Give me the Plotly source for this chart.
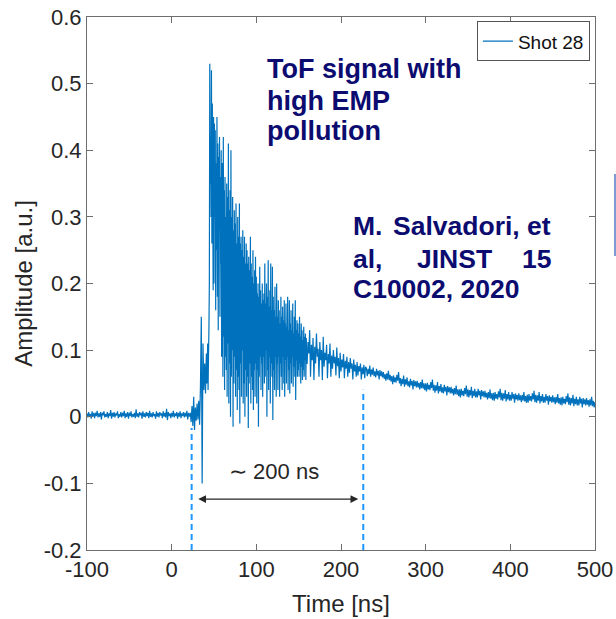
import numpy as np
import plotly.graph_objects as go

# ---------------------------------------------------------------------------
# ToF detector record, "Shot 28".  Amplitudes are stored in units of 1e-3 a.u.
# The record is kept as three segments, each with its own sample interval.
# ---------------------------------------------------------------------------

# -100 ns .. 39 ns, 1 ns samples: baseline, then the pre-pulse disturbance
early_start_ns, early_step_ns = -100, 1
early_amp = [
    5, -1, 7, 1, 4, -3, 8, 0, 6, -2,
    6, 1, 9, -1, 5, 0, 7, -4, 6, 2,
    8, -1, 4, 0, 7, -2, 5, 1, 10, -3,
    6, 0, 7, -1, 5, 2, 8, -2, 4, 0,
    7, -1, 6, 1, 9, -2, 5, 0, 7, -3,
    6, 1, 8, -1, 4, 0, 6, -2, 11, 0,
    5, -1, 7, 2, 6, -3, 8, 0, 5, -1,
    7, 1, 6, -2, 9, 0, 5, -1, 7, 1,
    4, -3, 8, 0, 6, -1, 7, 2, 5, -2,
    8, 0, 6, -1, 12, -5, 7, 1, 5, -2,
    6, 0, 9, -1, 5, 1, 7, -3, 6, 0,
    8, -2, 5, 1, 7, -1, 6, 0, 9, -4,
    6, 0,
    6, -8, 16, -14, 30, -20, 14, -6, 20, -4,
    24, -12, 45, 150, -100, 110, 40, 80,
]

# 40 ns .. 159.5 ns, 0.5 ns samples: main ion burst with EMP ringing
burst_start_ns, burst_step_ns = 40, 0.5
burst_amp = [
    35, 70, 95, 50, 60, 110, 40, 90, 130, 200,
    530, 350, 420, 300, 520, 260, 470, 330, 190, 450,
    200, 440, 300, 430, 160, 380, 250, 450, 180, 410,
    130, 390, 280, 420, 150, 360, 230, 400, 90, 380,
    380, 60, 420, 120, 340, 40, 360, 90, 300, 70,
    350, 30, 330, 110, 410, 20, 310, 80, 340, 0,
    400, 60, 300, 100, 330, -15, 280, 50, 310, 90,
    290, 30, 320, 70, 260, 10, 300, 60, 270, 40,
    320, -10, 260, 80, 270, 30, 250, 100, 280, 20,
    240, 50, 270, 0, 230, 70, 260, 30, 250, 60,
    230, -17, 240, 50, 220, 80, 270, 20, 230, 60,
    210, 40, 250, 10, 200, 70, 220, 30, 240, 80,
    210, 20, 185, 70, 200, -15, 180, 60, 225, 90,
    190, 40, 170, 80, 200, 30, 175, 90, 185, 50,
    230, 60, 170, 100, 200, 0, 180, 70, 235, 40,
    165, 90, 190, 20, 230, 80, 160, 60, 225, -5,
    180, 70, 160, 40, 195, 90, 150, 30, 200, 80,
    150, 40, 175, 90, 160, 30, 140, 80, 180, 60,
    150, 40, 165, 90, 145, 50, 175, 30, 140, 85,
    170, 50, 135, 90, 180, 40, 130, 70, 175, 35,
    140, 80, 160, 50, 130, 90, 170, 45, 125, 75,
    150, 60, 175, 25, 130, 85, 145, 60, 140, 70,
    125, 60, 150, 80, 120, 50, 140, 75, 130, 55,
    115, 70, 135, 60, 120, 85, 125, 55, 118, 80,
]

# 160 ns .. 500 ns, 1 ns samples: slow decaying tail
tail_start_ns, tail_step_ns = 160, 1
tail_amp = [
    80, 112, 95, 130, 60, 108, 85, 118, 55, 105,
    80, 125, 90, 102, 60, 112, 85, 100, 55, 120,
    75, 96, 85, 108, 58, 94, 80, 110, 60, 92,
    72, 100, 80, 90, 62, 104, 76, 88, 58, 96,
    68, 86, 74, 94, 58, 84, 72, 90, 60, 82,
    66, 88, 72, 80, 56, 86, 68, 78, 60, 82,
    62, 76, 68, 80, 56, 74, 64, 78, 58, 75,
    73, 61, 72, 64, 77, 60, 71, 63, 74, 61,
    68, 59, 72, 62, 69, 56, 70, 61, 68, 59,
    67, 57, 64, 54, 65, 56, 69, 55, 63, 53,
    61, 49, 62, 52, 59, 51, 63, 54, 67, 50,
    58, 46, 57, 49, 62, 45, 56, 48, 59, 46,
    53, 44, 57, 47, 54, 41, 55, 46, 53, 44,
    54, 44, 51, 41, 52, 43, 56, 42, 50, 40,
    50, 38, 51, 41, 48, 40, 52, 43, 56, 39,
    48, 36, 47, 39, 52, 35, 46, 38, 49, 36,
    44, 35, 48, 38, 45, 32, 46, 37, 44, 35,
    45, 35, 42, 32, 43, 34, 47, 33, 41, 31,
    41, 29, 42, 32, 39, 31, 43, 34, 47, 30,
    41, 29, 40, 32, 45, 28, 39, 31, 42, 29,
    38, 29, 42, 32, 39, 26, 40, 31, 38, 29,
    39, 29, 36, 26, 37, 28, 41, 27, 35, 25,
    36, 24, 37, 27, 34, 26, 38, 29, 42, 25,
    36, 24, 35, 27, 40, 23, 34, 26, 37, 24,
    33, 24, 37, 27, 34, 21, 35, 26, 33, 24,
    35, 25, 32, 22, 33, 24, 37, 23, 31, 21,
    33, 21, 34, 24, 31, 23, 35, 26, 39, 22,
    33, 21, 32, 24, 37, 20, 31, 23, 34, 21,
    30, 21, 34, 24, 31, 18, 32, 23, 30, 21,
    32, 22, 29, 19, 30, 21, 34, 20, 28, 18,
    29, 17, 30, 20, 27, 19, 31, 22, 35, 18,
    29, 17, 28, 20, 33, 16, 27, 19, 30, 17,
    26, 17, 30, 20, 27, 14, 28, 19, 26, 17,
    28, 18, 25, 15, 26, 17, 30, 16, 24, 14,
    22,
]

# Axis ticks (hyphen minus, as printed on the original axes)
x_ticks = [-100, 0, 100, 200, 300, 400, 500]
x_tick_labels = ["-100", "0", "100", "200", "300", "400", "500"]
y_ticks = [-0.2, -0.1, 0, 0.1, 0.2, 0.3, 0.4, 0.5, 0.6]
y_tick_labels = ["-0.2", "-0.1", "0", "0.1", "0.2", "0.3", "0.4", "0.5", "0.6"]

# Start / end of the ~200 ns window and where the guide lines stop
window_ns = [23.6, 226.3]
window_tops = [-0.017, 0.0405]


def segment(start, step, values):
    n = len(values)
    return start + step * np.arange(n), np.asarray(values, dtype=float) / 1000.0


t_parts, a_parts = zip(
    segment(early_start_ns, early_step_ns, early_amp),
    segment(burst_start_ns, burst_step_ns, burst_amp),
    segment(tail_start_ns, tail_step_ns, tail_amp),
)
t_ns = np.concatenate(t_parts)
amp = np.concatenate(a_parts)

FONT = "Liberation Sans, Arial, Helvetica, sans-serif"
INK = "#262626"
FRAME = "#6e6e6e"
NAVY = "#0c0c70"

fig = go.Figure()
fig.add_trace(go.Scatter(
    x=t_ns, y=amp, mode="lines", name="Shot 28",
    line=dict(color="#0072bd", width=1.2, simplify=False),
))

# dashed guides marking the window
for t0, top in zip(window_ns, window_tops):
    fig.add_shape(type="line", xref="x", yref="y", x0=t0, x1=t0, y0=-0.2, y1=top,
                  line=dict(color="#1e96ff", width=2, dash="6px,4px"))

# double-headed arrow spanning the window
fig.add_annotation(x=220.4, y=-0.1235, ax=29.6, ay=-0.1235,
                   xref="x", yref="y", axref="x", ayref="y", text="",
                   showarrow=True, arrowhead=2, startarrowhead=2,
                   arrowside="end+start", arrowsize=1.3, arrowwidth=1.2,
                   arrowcolor=INK)
fig.add_annotation(x=120.9, y=-0.0822, xref="x", yref="y", text="∼ 200 ns",
                   showarrow=False, xanchor="center", yanchor="middle",
                   font=dict(family=FONT, size=22, color=INK))

# bold navy notes
tof_font = dict(family=FONT, size=27, color=NAVY)
for txt, y in [("ToF signal with", 0.5227), ("high EMP", 0.4737), ("pollution", 0.4287)]:
    fig.add_annotation(x=110.2, y=y, xref="x", yref="y", text=f"<b>{txt}</b>",
                       showarrow=False, xanchor="left", yanchor="middle", font=tof_font)

ref_font = dict(family=FONT, size=26.5, color=NAVY)
ref_rows = [
    (0.2860, [("M.", 212.0, "left"), ("Salvadori,", 259.2, "left"), ("et", 450.5, "right")]),
    (0.2370, [("al,", 212.0, "left"), ("JINST", 287.4, "left"), ("15", 450.5, "right")]),
    (0.1920, [("C10002, 2020", 212.0, "left")]),
]
for y, words in ref_rows:
    for w, x, anchor in words:
        fig.add_annotation(x=x, y=y, xref="x", yref="y", text=f"<b>{w}</b>",
                           showarrow=False, xanchor=anchor, yanchor="middle", font=ref_font)

# thin blue bar at the right page edge
fig.add_shape(type="line", xref="paper", yref="paper",
              x0=1.0394, x1=1.0394, y0=0.5516, y1=0.7054,
              line=dict(color="#7b9bd1", width=2))

axis_common = dict(
    showline=True, linecolor=FRAME, linewidth=1, mirror="ticks",
    ticks="inside", ticklen=6, tickcolor=FRAME, tickwidth=1,
    showgrid=False, zeroline=False, automargin=False,
    tickfont=dict(family=FONT, size=22, color=INK),
)

fig.update_xaxes(range=[-100, 500], tickvals=x_ticks, ticktext=x_tick_labels,
                 title=dict(text="Time [ns]", font=dict(family=FONT, size=24, color=INK), standoff=13),
                 **axis_common)
fig.update_yaxes(range=[-0.2, 0.6], tickvals=y_ticks, ticktext=y_tick_labels,
                 title=dict(text="Amplitude [a.u.]", font=dict(family=FONT, size=24, color=INK), standoff=4),
                 **axis_common)

fig.update_layout(
    width=616, height=619,
    margin=dict(l=87, r=21, t=17, b=69, pad=0),
    plot_bgcolor="white", paper_bgcolor="white",
    showlegend=True,
    legend=dict(x=0.990, y=0.992, xanchor="right", yanchor="top",
                bgcolor="white", bordercolor="#555555", borderwidth=1,
                font=dict(family=FONT, size=19, color="#111111"),
                itemwidth=30, tracegroupgap=0),
)

fig.write_html("out.html")
